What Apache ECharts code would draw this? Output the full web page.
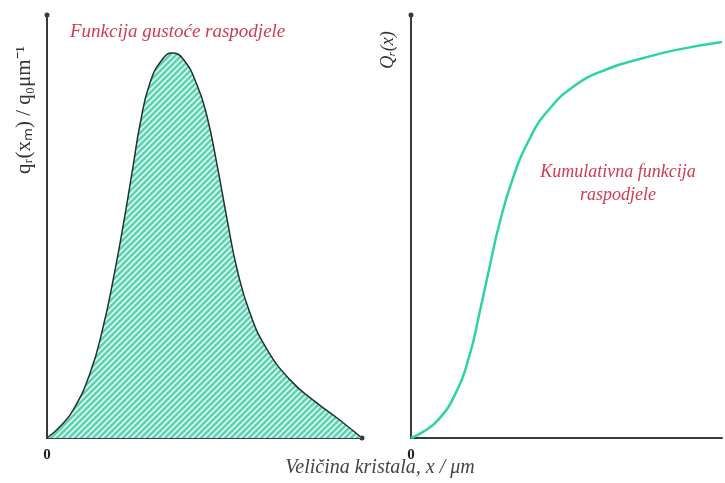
<!DOCTYPE html>
<html>
<head>
<meta charset="utf-8">
<script src="https://cdn.jsdelivr.net/npm/echarts@6/dist/echarts.min.js"></script>
<style>
    html, body { margin: 0; padding: 0; background: #fff; }
    #chart { width: 725px; height: 483px; }
</style>
</head>
<body>
<div id="chart"></div>
<script>
// density curve (left panel), axis 0..100
const densityX = [0, 4, 8.3, 13.7, 17.8, 21.0, 24.1, 27.3, 29.5, 32.7, 36.8, 39.7, 43.2, 47.6, 50.8, 54.0, 57.1, 60.3, 64.4, 69.8, 77.1, 84.4, 93.0, 100];
const densityY = [0, 2.6, 6.6, 15.4, 26.2, 37.4, 49.9, 64.1, 74.0, 84.0, 89.7, 91.0, 89.6, 83.5, 76.0, 64.5, 52.0, 40.0, 29.6, 21.0, 13.8, 9.0, 4.2, 0];

// cumulative curve (right panel)
const cumX = [0, 4, 8.9, 14.3, 18.8, 22.0, 25.2, 28.3, 32.8, 38.2, 43.6, 52.5, 63.4, 74.2, 85.0, 100];
const cumY = [0, 1.5, 4.4, 10.5, 19.5, 29.5, 40.2, 50.3, 61.5, 70.8, 77.0, 83.2, 87.3, 89.7, 91.7, 93.6];

const xTicks = [0];

const zip = (xs, ys) => xs.map((x, i) => [x, ys[i]]);

// hatch pattern for the density area
const hatch = document.createElement('canvas');
hatch.width = 6;
hatch.height = 6;
const ctx = hatch.getContext('2d');
ctx.fillStyle = '#5dd2b3';
ctx.fillRect(0, 0, 6, 6);
ctx.strokeStyle = '#ddf6ee';
ctx.lineWidth = 1.7;
ctx.beginPath();
ctx.moveTo(0, 6); ctx.lineTo(6, 0);
ctx.moveTo(-3, 3); ctx.lineTo(3, -3);
ctx.moveTo(3, 9); ctx.lineTo(9, 3);
ctx.stroke();

const axisLine = {
    show: true,
    lineStyle: { color: '#3a3a3a', width: 2 },
};

const xAxisBase = {
    type: 'value',
    min: 0,
    max: 100,
    interval: 100,
    axisTick: { show: false },
    splitLine: { show: false },
    axisLabel: {
        formatter: v => (xTicks.includes(v) ? String(v) : ''),
        color: '#222',
        fontWeight: 'bold',
        fontFamily: 'Liberation Serif',
        fontSize: 15,
        margin: 10,
    },
};

const yAxisBase = {
    type: 'value',
    min: 0,
    max: 100,
    axisTick: { show: false },
    splitLine: { show: false },
    axisLabel: { show: false },
};

const option = {
    backgroundColor: '#fff',
    animation: false,
    grid: [
        { left: 47, top: 15, width: 315, height: 423 },
        { left: 411, top: 15, width: 314, height: 423 },
    ],
    xAxis: [
        { ...xAxisBase, gridIndex: 0, axisLine: { ...axisLine, symbol: ['none', 'circle'], symbolSize: [5, 5] } },
        { ...xAxisBase, gridIndex: 1, axisLine: { ...axisLine } },
    ],
    yAxis: [
        { ...yAxisBase, gridIndex: 0, axisLine: { ...axisLine, symbol: ['none', 'circle'], symbolSize: [5, 5] } },
        { ...yAxisBase, gridIndex: 1, axisLine: { ...axisLine, symbol: ['none', 'circle'], symbolSize: [5, 5] } },
    ],
    series: [
        {
            type: 'line',
            xAxisIndex: 0,
            yAxisIndex: 0,
            data: zip(densityX, densityY),
            smooth: 0.5,
            showSymbol: false,
            lineStyle: { color: '#22332e', width: 1.5 },
            areaStyle: { color: { image: hatch, repeat: 'repeat' }, opacity: 1 },
        },
        {
            type: 'line',
            xAxisIndex: 1,
            yAxisIndex: 1,
            data: zip(cumX, cumY),
            smooth: 0.5,
            showSymbol: false,
            lineStyle: { color: '#2dd3a6', width: 2.5 },
        },
    ],
    graphic: [
        {
            type: 'text',
            x: 70,
            y: 32,
            style: {
                text: 'Funkcija gustoće raspodjele',
                fill: '#d23a52',
                font: 'italic 19px "Liberation Serif"',
                verticalAlign: 'middle',
            },
        },
        {
            type: 'text',
            x: 618,
            y: 184,
            style: {
                text: 'Kumulativna funkcija\nraspodjele',
                fill: '#d23a52',
                font: 'italic 18px "Liberation Serif"',
                align: 'center',
                verticalAlign: 'middle',
                lineHeight: 23,
            },
        },
        {
            type: 'text',
            x: 380,
            y: 468,
            style: {
                text: 'Veličina kristala, x / μm',
                fill: '#444',
                font: 'italic 20px "Liberation Serif"',
                align: 'center',
                verticalAlign: 'middle',
            },
        },
        {
            type: 'text',
            x: 24,
            y: 110,
            rotation: Math.PI / 2,
            style: {
                text: 'qᵣ(xₘ) / q₀μm⁻¹',
                fill: '#333',
                font: '21px "Liberation Serif"',
                align: 'center',
                verticalAlign: 'middle',
            },
        },
        {
            type: 'text',
            x: 388,
            y: 50,
            rotation: Math.PI / 2,
            style: {
                text: 'Qᵣ(x)',
                fill: '#333',
                font: 'italic 18px "Liberation Serif"',
                align: 'center',
                verticalAlign: 'middle',
            },
        },
    ],
};

const myChart = echarts.init(document.getElementById('chart'));
myChart.setOption(option);
</script>
</body>
</html>
